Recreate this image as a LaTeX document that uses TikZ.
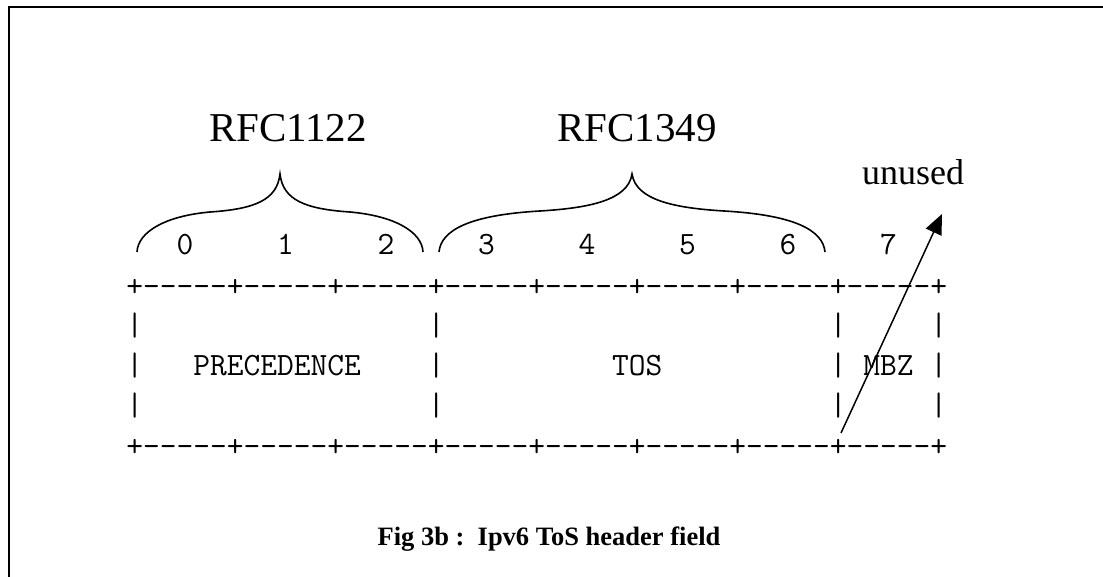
\documentclass[tikz,border=0pt]{standalone}
\usepackage{fontspec}
\setmainfont{Liberation Serif}
\usetikzlibrary{arrows.meta}
\newcommand\hy{\mbox{-}}
\newcommand\seg{\hy\hy\hy\hy\hy}
\newcommand\plusrow{+\seg+\seg+\seg+\seg+\seg+\seg+\seg+\seg+}
\newcommand\sk[1]{\setbox0\hbox{0}\hspace*{\dimexpr\wd0*#1\relax}}
\tikzset{
  ascii/.style={anchor=base west, inner sep=0pt, outer sep=0pt,
    font=\ttfamily\fontsize{32.53}{38}\selectfont\addfontfeatures{FakeBold=1.2}},
  rfc/.style={anchor=base, inner sep=0pt, font=\fontsize{41}{48}\selectfont},
  bracestyle/.style={line width=1.6pt},
  frame/.style={line width=1.8pt},
}
\begin{document}
\begin{tikzpicture}[x=1pt,y=-1pt]
\useasboundingbox (0,0) rectangle (1103,577);
% frame
\draw[frame] (8.8,577) -- (8.8,6.7) -- (1103,6.7);
% labels
\node[rfc] (rfcA) at (288,141.7) {RFC1122};
\node[rfc] (rfcB) at (637,141.7) {RFC1349};
\node[anchor=base west, inner sep=0pt, font=\fontsize{36}{42}\selectfont] (unused) at (862,184.3) {unused};
% braces
\draw[bracestyle] (137,252) .. controls (138,232) and (165,216) .. (210,212)
  .. controls (255,209) and (277,200) .. (280,174)
  .. controls (283,200) and (305,209) .. (350,212)
  .. controls (395,216) and (422,232) .. (423,252);
\draw[bracestyle] (439,252) .. controls (441,230) and (470,215) .. (540,211)
  .. controls (590,208) and (628,200) .. (632,174)
  .. controls (636,200) and (674,208) .. (724,211)
  .. controls (794,215) and (823,230) .. (825,252);
% ascii table
\node[ascii] (bits) at (126.3,255) {\sk{3}0\sk{5}1\sk{5}2\sk{5}3\sk{5}4\sk{5}5\sk{5}6\sk{5}7};
\node[ascii] (top) at (126.3,296.2) {\plusrow};
\node[ascii] (rowa) at (126.3,335.4) {|\sk{17}|\sk{23}|\sk{5}|};
\node[ascii] (rowb) at (126.3,375.6) {|\sk{3}PRECEDENCE\sk{4}|\sk{10}TOS\sk{10}|\sk{1}MBZ\sk{1}|};
\node[ascii] (rowc) at (126.3,415.8) {|\sk{17}|\sk{23}|\sk{5}|};
\node[ascii] (bot) at (126.3,456.5) {\plusrow};
% arrow
\coordinate (arrowstart) at (841,433);
\coordinate (arrowtip) at (942,214);
\draw[line width=1.5pt, -{Triangle[length=20pt,width=17pt]}] (arrowstart) -- (arrowtip);
% caption
\node[anchor=base, inner sep=0pt, font=\bfseries\fontsize{26.5}{32}\selectfont] (caption) at (549,545) {Fig 3b :\ \ Ipv6 ToS header field};
\end{tikzpicture}
\end{document}
